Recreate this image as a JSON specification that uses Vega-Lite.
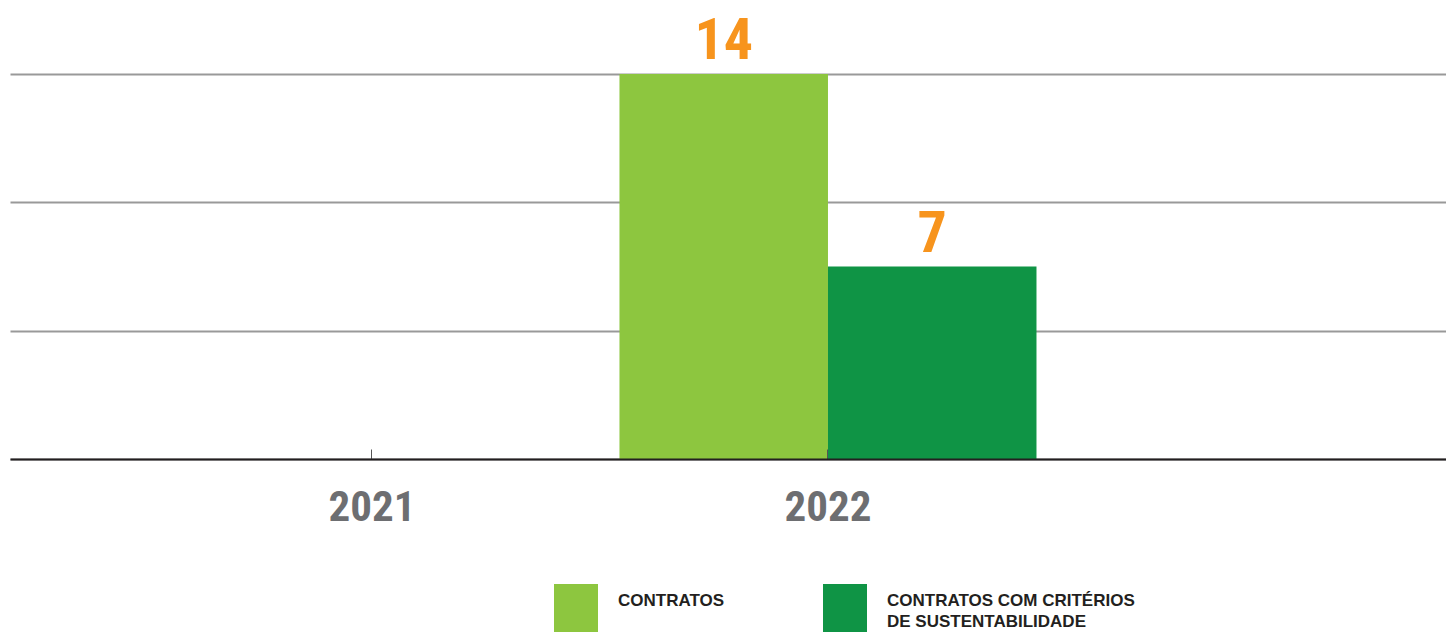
{
  "$schema": "https://vega.github.io/schema/vega-lite/v6.json",
  "width": 1436,
  "height": 385,
  "autosize": {"type": "none"},
  "padding": {"left": 10, "top": 74, "right": 0, "bottom": 173},
  "background": "#ffffff",
  "config": {
    "view": {"stroke": null},
    "style": {"guide-label": {"lineHeight": 21}}
  },
  "data": {
    "values": [
      {"ano": "2022", "serie": "CONTRATOS", "valor": 14},
      {"ano": "2022", "serie": "CONTRATOS COM CRITÉRIOS DE SUSTENTABILIDADE", "valor": 7}
    ]
  },
  "encoding": {
    "x": {
      "field": "ano",
      "type": "nominal",
      "scale": {"domain": ["2021", "2022"], "paddingInner": 0.0855, "paddingOuter": 0.6173, "align": 0.2726},
      "axis": {
        "title": null,
        "labelAngle": 0,
        "labelFont": "Roboto Condensed, DejaVu Sans Condensed, sans-serif",
        "labelFontSize": 43,
        "labelFontWeight": "bold",
        "labelColor": "#6d6e71",
        "labelPadding": 37,
        "labelBaseline": "top",
        "tickSize": -10,
        "tickColor": "#555555",
        "tickWidth": 1,
        "domainColor": "#231f20",
        "domainWidth": 2,
        "grid": false,
        "zindex": 1
      }
    },
    "xOffset": {
      "field": "serie",
      "type": "nominal",
      "scale": {"domain": ["CONTRATOS", "CONTRATOS COM CRITÉRIOS DE SUSTENTABILIDADE"], "paddingInner": 0, "paddingOuter": 0}
    },
    "y": {
      "field": "valor",
      "type": "quantitative",
      "scale": {"domain": [0, 14], "nice": false},
      "axis": {
        "title": null,
        "values": [0, 4.6667, 9.3333, 14],
        "labels": false,
        "ticks": false,
        "domain": false,
        "grid": true,
        "gridColor": "#999999",
        "gridWidth": 2
      }
    }
  },
  "layer": [
    {
      "mark": {"type": "bar"},
      "encoding": {
        "color": {
          "field": "serie",
          "type": "nominal",
          "scale": {"domain": ["CONTRATOS", "CONTRATOS COM CRITÉRIOS DE SUSTENTABILIDADE"], "range": ["#8dc63f", "#0f9445"]},
          "legend": {
            "title": null,
            "orient": "none",
            "legendX": 544,
            "legendY": 505,
            "direction": "horizontal",
            "symbolType": "M-1,-0.77H1V1.45H-1Z",
            "symbolSize": 1936,
            "symbolStrokeWidth": 0,
            "symbolOpacity": 1,
            "labelFont": "Liberation Sans",
            "labelFontSize": 17,
            "labelFontWeight": "bold",
            "labelColor": "#231f20",
            "labelOffset": 20,
            "labelLimit": 400,
            "columnPadding": 98,
            "labelExpr": "split(replace(datum.label, 'CRITÉRIOS ', 'CRITÉRIOS|'), '|')"
          }
        }
      }
    },
    {
      "mark": {
        "type": "text",
        "baseline": "alphabetic",
        "dy": -15,
        "font": "Roboto Condensed, DejaVu Sans Condensed, sans-serif",
        "fontSize": 58,
        "fontWeight": "bold",
        "color": "#f7941d"
      },
      "encoding": {
        "text": {"field": "valor", "type": "quantitative"}
      }
    }
  ]
}
